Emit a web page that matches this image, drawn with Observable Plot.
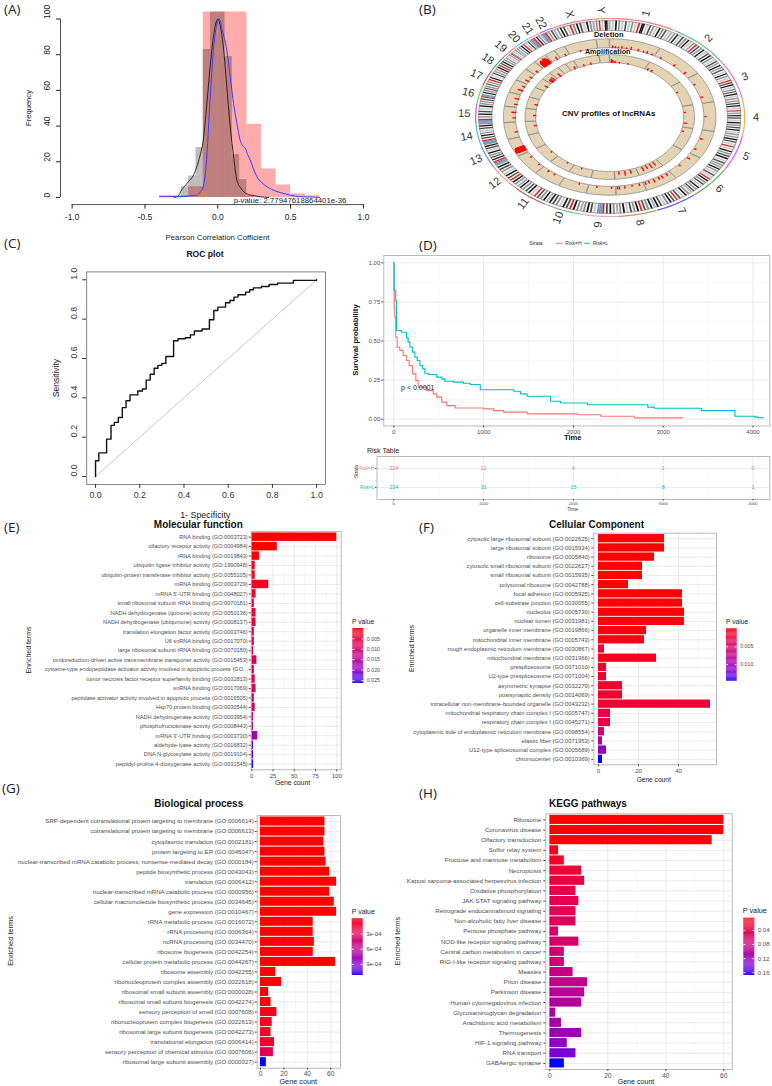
<!DOCTYPE html>
<html><head><meta charset="utf-8">
<script src="https://cdn.jsdelivr.net/npm/d3@7"></script>
<script src="https://cdn.jsdelivr.net/npm/@observablehq/plot@0.6"></script>
<style>
html,body{margin:0;padding:0;background:#fff;}
#root{position:relative;width:772px;height:1086px;overflow:hidden;background:#fff;}
#root > svg{position:absolute;left:0;top:0;}
</style></head><body><div id="root"></div>
<script>
// ================= DATA =================
// (A) correlation histograms + densities
const pinkBinWidth = 0.1;
const pinkBinStart = [-0.4,-0.3,-0.2,-0.1,0.0,0.1,0.2,0.3,0.4,0.5,0.6];
const pinkCounts   = [1,1,6,135,140,120,41,16,7,2,1];
const grayBinWidth = 0.05;
const grayBinStart = [-0.25,-0.2,-0.15,-0.1,-0.05,0,0.05,0.1,0.15,0.2];
const grayCounts   = [6,12,28,83,130,125,79,24,10,1];
const blueDensX = [-0.4,-0.3,-0.26,-0.2,-0.145,-0.12,-0.1,-0.08,-0.053,-0.03,-0.01,0.01,0.03,0.062,0.085,0.108,0.13,0.154,0.17,0.189,0.205,0.223,0.245,0.269,0.3,0.338,0.4,0.453,0.5,0.568,0.65,0.7];
const blueDensY = [0.4,0.5,0.4,0.8,1.3,3,6,18,55,83,96,100,94,82.6,68,52.7,42,32,29,27.5,24,21,16,11.6,8.5,6,3.5,2.2,1.2,0.4,0.2,0];
const blackDensX = [-0.3,-0.27,-0.25,-0.22,-0.2,-0.17,-0.145,-0.12,-0.1,-0.08,-0.053,-0.03,0,0.02,0.04,0.06,0.085,0.11,0.13,0.16,0.2,0.25,0.29,0.35];
const blackDensY = [0,1,4,7,9,12,17,24,32,48,73,90,100,95,83,64,40,22,10,5,2,1,0.4,0];
const xTicksA = [-1,-0.5,0,0.5,1];
const yTicksA = [0,20,40,60,80,100];
const pValueA = "p-value: 2.77947618864401e-36";

// (B) circos
const chrNames   = ["1","2","3","4","5","6","7","8","9","10","11","12","13","14","15","16","17","18","19","20","21","22","X","Y"];
const chrLengths = [249,243,198,191,181,171,159,146,141,136,135,134,115,107,103,90,81,78,59,63,48,51,155,59];
const chrColors  = ["#f08080","#66bb88","#d878c8","#f5b041","#e050f0","#4caf50","#5a5aff","#c8905a","#f0a0c8","#80c080","#c06060","#f0a080",
                    "#6090d0","#40c0d0","#c060e0","#60d060","#c05050","#40a0a0","#f08070","#60c0e0","#f0a0a0","#a070e0","#f08080","#e0a060"];
const chrBands = [
 "wlwkwmwlwdwlwmwlwrwkkwlwdwmwlwkwmwdwlw","wmwkwlwdwmwkwlwmwrwdwmwkwlwdwkwmwlwdw","wkwmwdwlwkwmwlwrwdwkwlwmwdwkwlw",
 "wmwdwkwlwrwmwkwdwlwkwmwdwkwlw","wmwkwdwlwrwlwkwmwdwkwlwdwmw","wkwmwlwdwlwrwkwmwdwlwkwmwdw","wmwkwlwdwrwdwkwmwlwdwkw",
 "wkwmwdwrwkwmwdwlwkwmw","wmwkwdwrbbbwlwdwkwmw","wmwkwrwdwkwlwmwdwkw","wkwmwdwrwlwkwdwmwkw","wmwkwrwdwkwlwmwdwkw",
 "bbrwkwdwmwkwlwdwkw","bbrwdwkwmwlwdwkw","bbrwmwkwdwlwkw","wmwdwrbbwkwmwdw","wdwmwrwkwlwdw","wmwkwrwdwkwmw",
 "wlwmwrbwlwmw","wmwkwrwlwdw","bbrwkwmw","bbrwmwdw","wmwkwdwlwrwmwkwdwlwkwmw","wmwrwlwkkw"];
const delMarks = [
 ["1",10,.3],["1",25,.25],["1",40,.2],["1",60,.3],["1",85,.2],["1",110,.35],["1",150,.25],["1",180,.2],["1",200,.3],["1",230,.2],
 ["2",30,.2],["2",120,.25],["2",200,.3],["3",50,.2],["3",150,.25],["4",90,.2],["5",60,.25],["5",140,.2],["6",30,.3],["6",100,.2],
 ["7",20,.3],["7",50,.35],["7",70,.3],["7",100,.4],["7",130,.3],["7",150,.35],["8",20,.3],["8",60,.2],["8",100,.3],["8",130,.35],["8",140,.3],
 ["9",20,.25],["9",100,.2],["10",50,.2],["11",60,.2],["11",100,.25],["12",30,.2],["12",100,.2],
 ["13",20,.9],["13",22,.95],["13",24,.9],["13",26,.95],["13",28,.9],["13",30,.95],["13",32,.9],["13",34,.95],["13",36,.9],["13",38,.85],["13",40,.9],["13",42,.8],["13",44,.85],["13",46,.8],["13",48,.9],["13",50,.8],
 ["14",40,.3],["15",30,.3],["15",70,.4],["16",20,.3],["16",60,.4],["17",30,.5],["17",60,.3],["18",20,.4],["18",50,.3],["19",20,.3],
 ["20",10,.6],["20",15,.7],["20",20,.8],["20",25,.75],["20",30,.7],["20",35,.85],["20",40,.9],["20",45,.8],["20",50,.8],["20",55,.6],
 ["21",30,.4],["22",30,.3],["X",60,.2]];
const ampMarks = [
 ["1",5,.5],["1",15,.4],["1",30,.3],["1",60,.2],["1",120,.2],["2",10,.3],["2",40,.3],["3",60,.2],["4",50,.2],["4",150,.3],["5",30,.2],
 ["7",30,.5],["7",60,.6],["7",90,.5],["7",120,.6],["8",40,.5],["8",80,.6],["8",120,.4],["10",80,.2],["11",50,.2],["12",60,.2],
 ["14",70,.3],["15",50,.3],["16",40,.35],["18",40,.4],["19",15,.5],["19",25,.55],["19",40,.6],["20",30,.5],["22",30,.4],["X",40,.3],["X",90,.3]];

// (C) ROC
const rocFPR = [0,0,0.015,0.05,0.07,0.085,0.103,0.121,0.138,0.156,0.191,0.212,0.229,0.247,0.265,0.282,0.30,0.318,0.353,0.373,0.406,0.429,0.447,0.482,0.515,0.535,0.553,0.588,0.608,0.626,0.644,0.679,0.697,0.714,0.75,0.785,0.823,0.895,1];
const rocTPR = [0,0.08,0.12,0.19,0.26,0.275,0.30,0.35,0.385,0.415,0.435,0.445,0.49,0.52,0.55,0.565,0.575,0.61,0.69,0.70,0.705,0.72,0.74,0.75,0.797,0.844,0.861,0.883,0.895,0.912,0.924,0.937,0.949,0.959,0.966,0.976,0.983,0.997,1];
const ticksC = [0,0.2,0.4,0.6,0.8,1];

// (D) survival
const survH_t = [0,2,5,11,22,37,67,104,142,172,209,246,272,366,440,478,534,590,683,1000,1112,1224,1485,2045,2306,2679,3220];
const survH_s = [1,0.827,0.716,0.652,0.525,0.46,0.44,0.407,0.375,0.343,0.29,0.247,0.205,0.183,0.162,0.141,0.109,0.087,0.072,0.066,0.055,0.045,0.034,0.028,0.019,0.0085,0.0085];
const survL_t = [0,4,22,30,86,142,160,179,209,235,261,291,321,347,384,478,534,571,664,776,851,963,1336,1410,1485,1746,1858,2157,2828,2903,3425,3799,4022,4060,4120];
const survL_s = [1,0.823,0.759,0.567,0.556,0.52,0.493,0.461,0.429,0.397,0.375,0.343,0.322,0.294,0.286,0.269,0.258,0.243,0.237,0.23,0.222,0.188,0.179,0.162,0.147,0.115,0.104,0.092,0.077,0.07,0.055,0.019,0.013,0.009,0.009];
const strata = ["Risk=H","Risk=L"];
const strataColors = ["#F8766D","#00BFC4"];
const riskTimes = [0,1000,2000,3000,4000];
const riskH = [224,12,4,1,0];
const riskL = [224,31,15,8,1];

// (E) Molecular function
const mfTerms = ["RNA binding (GO:0003723)","olfactory receptor activity (GO:0004984)","rRNA binding (GO:0019843)","ubiquitin ligase inhibitor activity (GO:1990948)","ubiquitin-protein transferase inhibitor activity (GO:0055105)","mRNA binding (GO:0003729)","mRNA 5'-UTR binding (GO:0048027)","small ribosomal subunit rRNA binding (GO:0070181)","NADH dehydrogenase (quinone) activity (GO:0050136)","NADH dehydrogenase (ubiquinone) activity (GO:0008137)","translation elongation factor activity (GO:0003746)","U6 snRNA binding (GO:0017070)","large ribosomal subunit rRNA binding (GO:0070180)","oxidoreduction-driven active transmembrane transporter activity (GO:0015453)","cysteine-type endopeptidase activator activity involved in apoptotic process (GO...","tumor necrosis factor receptor superfamily binding (GO:0032813)","snRNA binding (GO:0017069)","peptidase activator activity involved in apoptotic process (GO:0016505)","Hsp70 protein binding (GO:0030544)","NADH dehydrogenase activity (GO:0003954)","phosphofructokinase activity (GO:0008443)","mRNA 3'-UTR binding (GO:0003730)","aldehyde-lyase activity (GO:0016832)","DNA N-glycosylase activity (GO:0019104)","peptidyl-proline 4-dioxygenase activity (GO:0031545)"];
const mfCounts = [100,30,9,4,4,20,5,3,5,5,3,3,2,6,3,4,5,3,4,2,2,7,2,2,2];
const mfP = [0.00001,0.00002,0.0005,0.0015,0.0015,0.002,0.0035,0.004,0.005,0.005,0.006,0.0065,0.007,0.0075,0.008,0.0085,0.009,0.0105,0.0115,0.0125,0.013,0.0175,0.024,0.025,0.0264];
const mfLegendTicks = [0.005,0.010,0.015,0.020,0.025];

// (F) Cellular component
const ccTerms = ["cytosolic large ribosomal subunit (GO:0022625)","large ribosomal subunit (GO:0015934)","ribosome (GO:0005840)","cytosolic small ribosomal subunit (GO:0022627)","small ribosomal subunit (GO:0015935)","polysomal ribosome (GO:0042788)","focal adhesion (GO:0005925)","cell-substrate junction (GO:0030055)","nucleolus (GO:0005730)","nuclear lumen (GO:0031981)","organelle inner membrane (GO:0019866)","mitochondrial inner membrane (GO:0005743)","rough endoplasmic reticulum membrane (GO:0030867)","mitochondrial membrane (GO:0031966)","prespliceosome (GO:0071010)","U2-type prespliceosome (GO:0071004)","asymmetric synapse (GO:0032279)","postsynaptic density (GO:0014069)","intracellular non-membrane-bounded organelle (GO:0043232)","mitochondrial respiratory chain complex I (GO:0005747)","respiratory chain complex I (GO:0045271)","cytoplasmic side of endoplasmic reticulum membrane (GO:0098554)","elastic fiber (GO:0071953)","U12-type spliceosomal complex (GO:0005689)","chromocenter (GO:0010369)"];
const ccCounts = [33,33,28,22,22,15,42,42,43,43,24,23,3,29,4,4,12,12,56,6,6,3,2,4,2];
const ccP = [0.00001,0.00001,0.00002,0.00003,0.00003,0.0001,0.0001,0.0001,0.0002,0.0002,0.0004,0.0006,0.0022,0.0008,0.0018,0.0018,0.0017,0.0017,0.002,0.003,0.003,0.006,0.008,0.011,0.0146];
const ccLegendTicks = [0.005,0.010];

// (G) Biological process
const bpTerms = ["SRP-dependent cotranslational protein targeting to membrane (GO:0006614)","cotranslational protein targeting to membrane (GO:0006613)","cytoplasmic translation (GO:0002181)","protein targeting to ER (GO:0045047)","nuclear-transcribed mRNA catabolic process, nonsense-mediated decay (GO:0000184)","peptide biosynthetic process (GO:0043043)","translation (GO:0006412)","nuclear-transcribed mRNA catabolic process (GO:0000956)","cellular macromolecule biosynthetic process (GO:0034645)","gene expression (GO:0010467)","rRNA metabolic process (GO:0016072)","rRNA processing (GO:0006364)","ncRNA processing (GO:0034470)","ribosome biogenesis (GO:0042254)","cellular protein metabolic process (GO:0044267)","ribosome assembly (GO:0042255)","ribonucleoprotein complex assembly (GO:0022618)","ribosomal small subunit assembly (GO:0000028)","ribosomal small subunit biogenesis (GO:0042274)","sensory perception of smell (GO:0007608)","ribonucleoprotein complex biogenesis (GO:0022613)","ribosomal large subunit biogenesis (GO:0042273)","translational elongation (GO:0006414)","sensory perception of chemical stimulus (GO:0007606)","ribosomal large subunit assembly (GO:0000027)"];
const bpCounts = [55,55,54,55,56,59,65,59,63,65,45,45,46,45,64,13,18,7,9,14,10,9,12,11,5];
const bpP = [1e-9,1e-9,1e-9,1e-9,1e-9,1e-9,1e-9,1e-9,1e-9,1e-9,2e-6,2e-6,3e-6,3e-6,5e-6,1e-5,2e-5,3e-5,4e-5,5e-5,8e-5,1e-4,1.5e-4,2.8e-4,1.12e-3];
const bpLegendTicks = [3e-4,6e-4,9e-4];

// (H) KEGG
const keggTerms = ["Ribosome","Coronavirus disease","Olfactory transduction","Sulfur relay system","Fructose and mannose metabolism","Necroptosis","Kaposi sarcoma-associated herpesvirus infection","Oxidative phosphorylation","JAK-STAT signaling pathway","Retrograde endocannabinoid signaling","Non-alcoholic fatty liver disease","Pentose phosphate pathway","NOD-like receptor signaling pathway","Central carbon metabolism in cancer","RIG-I-like receptor signaling pathway","Measles","Prion disease","Parkinson disease","Human cytomegalovirus infection","Glycosaminoglycan degradation","Arachidonic acid metabolism","Thermogenesis","HIF-1 signaling pathway","RNA transport","GABAergic synapse"];
const keggCounts = [60,60,56,3,5,11,12,9,10,9,9,3,10,5,5,8,13,12,11,2,4,11,6,9,5];
const keggP = [0.005,0.006,0.008,0.015,0.02,0.03,0.035,0.04,0.045,0.05,0.055,0.06,0.065,0.07,0.075,0.08,0.09,0.095,0.1,0.105,0.11,0.12,0.13,0.14,0.168];
const keggLegendTicks = [0.04,0.08,0.12,0.16];

// ================= HELPERS =================
const W = 772, H = 1086;
const root = document.getElementById("root");
const FONT = "Liberation Sans, Arial, Helvetica, sans-serif";
const frame = (x0, x1, y0, y1) => ({width: W, height: H, marginLeft: x0, marginRight: W - x1, marginTop: y0, marginBottom: H - y1,
  style: {background: "transparent", fontFamily: FONT, overflow: "visible"}});
const add = (svg) => root.appendChild(svg);
const zip = (xs, ys) => xs.map((x, i) => ({x, y: ys[i]}));

// ================= (A) =================
{
  const xDom = [-1.08, 1.08], yDom = [-4, 104];
  const pink = pinkBinStart.map((x, i) => ({x1: x, x2: x + pinkBinWidth, n: pinkCounts[i]}));
  const gray = grayBinStart.map((x, i) => ({x1: x, x2: x + grayBinWidth, n: grayCounts[i]}));
  add(Plot.plot({
    ...frame(60, 374.6, 11.4, 204.1),
    x: {domain: xDom, axis: null}, y: {domain: yDom, axis: null},
    marks: [
      Plot.rectY(pink, {x1: "x1", x2: "x2", y: "n", fill: "#ff0000", fillOpacity: 0.33, clip: true}),
      Plot.rectY(gray, {x1: "x1", x2: "x2", y: "n", fill: "#000000", fillOpacity: 0.255, clip: true}),
      Plot.line(zip(blackDensX, blackDensY), {x: "x", y: "y", stroke: "#1a1a1a", strokeWidth: 0.9, curve: "monotone-x"}),
      Plot.line(zip(blueDensX, blueDensY), {x: "x", y: "y", stroke: "#3b3bff", strokeWidth: 1, curve: "monotone-x"}),
      Plot.ruleX([xDom[0]], {y1: yTicksA[0], y2: yTicksA[yTicksA.length - 1], stroke: "#222", strokeWidth: 0.8}),
      Plot.ruleY([yDom[0]], {x1: xTicksA[0], x2: xTicksA[xTicksA.length - 1], stroke: "#222", strokeWidth: 0.8}),
      Plot.axisY({ticks: yTicksA, tickSize: 4, tickFormat: () => "", label: null, color: "#222"}),
      Plot.axisX({ticks: xTicksA, tickSize: 4.5, tickFormat: () => "", label: null, color: "#222"}),
      Plot.text(yTicksA, {y: d => d, text: d => String(d), frameAnchor: "left", dx: -13.3, rotate: -90, fontSize: 8.5, fill: "#222"}),
      Plot.text(xTicksA, {x: d => d, text: d => d.toFixed(1), frameAnchor: "bottom", dy: 15, fontSize: 8.5, fill: "#222"})
    ]
  }));
}

// ================= (B) circos =================
{
  const GAP = 0.6;
  const degPerMb = (360 - GAP * chrNames.length) / d3.sum(chrLengths);
  const starts = []; let acc = GAP / 2;
  chrLengths.forEach(L => { starts.push(acc); acc += L * degPerMb + GAP; });
  const idx = Object.fromEntries(chrNames.map((n, i) => [n, i]));
  const rad = a => a * Math.PI / 180;
  const px = (a, r) => r * Math.sin(rad(a));
  const py = (a, r) => r * Math.cos(rad(a));
  const arcPts = (id, a0, a1, r0, r1, extra = {}) => {
    const n = Math.max(2, Math.ceil(Math.abs(a1 - a0) / 1) + 1);
    return d3.range(n).map(k => { const a = a0 + (a1 - a0) * k / (n - 1);
      return {id, x1: px(a, r0), y1: py(a, r0), x2: px(a, r1), y2: py(a, r1), ...extra}; });
  };
  const IDEO = [0.875, 0.975], DEL = [0.70, 0.79], AMP = [0.55, 0.63], OUTER = 1.0, LABEL = 1.085;
  const chrs = chrNames.map((n, i) => ({name: n, a0: starts[i], a1: starts[i] + chrLengths[i] * degPerMb, color: chrColors[i]}));
  const bandColor = {l: "#c8c8c8", m: "#8c8c8c", d: "#4a4a4a", k: "#111111", r: "#e8201c", b: "#6f8fc0"};
  const ideoBg = chrs.flatMap(c => arcPts("i" + c.name, c.a0, c.a1, IDEO[0], IDEO[1]));
  const bands = chrs.flatMap((c, i) => {
    const pat = chrBands[i], n = pat.length;
    return Array.from(pat).flatMap((ch, k) => ch === "w" ? [] :
      arcPts(c.name + "-" + k, c.a0 + (c.a1 - c.a0) * k / n, c.a0 + (c.a1 - c.a0) * (k + 1) / n, IDEO[0], IDEO[1], {fill: bandColor[ch]}));
  });
  const delRing = chrs.flatMap(c => arcPts("d" + c.name, c.a0, c.a1, DEL[0], DEL[1]));
  const ampRing = chrs.flatMap(c => arcPts("a" + c.name, c.a0, c.a1, AMP[0], AMP[1]));
  const outer = chrs.flatMap(c => arcPts("o" + c.name, c.a0, c.a1, OUTER, OUTER, {color: c.color}));
  const markLinks = (marks, ring) => marks.map(([n, mb, h]) => {
    const a = starts[idx[n]] + mb * degPerMb;
    const r2 = ring[0] + h * (ring[1] - ring[0]);
    return {x1: px(a, ring[0]), y1: py(a, ring[0]), x2: px(a, r2), y2: py(a, r2)};
  });
  const labels = chrs.map(c => {
    const a = (c.a0 + c.a1) / 2;
    return {x: px(a, LABEL), y: py(a, LABEL), text: c.name, rot: a <= 180 ? a - 90 : a - 270};
  });
  add(Plot.plot({
    ...frame(475.2, 744.2, 18, 216),
    x: {domain: [-1, 1], axis: null}, y: {domain: [-1, 1], axis: null},
    marks: [
      Plot.area(ideoBg, {x1: "x1", y1: "y1", x2: "x2", y2: "y2", z: "id", fill: "#f4f4f4"}),
      Plot.area(bands, {x1: "x1", y1: "y1", x2: "x2", y2: "y2", z: "id", fill: "fill"}),
      Plot.area(ideoBg, {x1: "x1", y1: "y1", x2: "x2", y2: "y2", z: "id", fill: "none", stroke: "#555", strokeWidth: 0.5}),
      Plot.area(delRing, {x1: "x1", y1: "y1", x2: "x2", y2: "y2", z: "id", fill: "#e5d4b4", stroke: "#8a8a8a", strokeWidth: 0.8}),
      Plot.area(ampRing, {x1: "x1", y1: "y1", x2: "x2", y2: "y2", z: "id", fill: "#e5d4b4", stroke: "#8a8a8a", strokeWidth: 0.8}),
      Plot.link(markLinks(delMarks, DEL), {x1: "x1", y1: "y1", x2: "x2", y2: "y2", stroke: "#ff0000", strokeWidth: 1.4}),
      Plot.link(markLinks(ampMarks, AMP), {x1: "x1", y1: "y1", x2: "x2", y2: "y2", stroke: "#ff0000", strokeWidth: 1.4}),
      Plot.line(outer, {x: "x1", y: "y1", z: "id", stroke: "color", strokeWidth: 1.2}),
      Plot.text(labels, {x: "x", y: "y", text: "text", rotate: "rot", fontSize: 11, fill: "#333"})
    ]
  }));
}

// ================= (C) ROC =================
{
  const dom = [-0.04, 1.04];
  add(Plot.plot({
    ...frame(86.2, 325, 271.4, 483.9),
    x: {domain: dom}, y: {domain: dom},
    marks: [
      Plot.line([{x: 0, y: 0}, {x: 1, y: 1}], {x: "x", y: "y", stroke: "#c4c4c4", strokeWidth: 0.9}),
      Plot.line(zip(rocFPR, rocTPR), {x: "x", y: "y", curve: "step-after", stroke: "#111", strokeWidth: 1.4}),
      Plot.frame({stroke: "#777", strokeWidth: 0.9}),
      Plot.axisX({ticks: ticksC, tickSize: 4, tickFormat: () => "", label: null, color: "#333"}),
      Plot.axisY({ticks: ticksC, tickSize: 4, tickFormat: () => "", label: null, color: "#333"}),
      Plot.text(ticksC, {x: d => d, text: d => d.toFixed(1), frameAnchor: "bottom", dy: 13.4, fontSize: 8.8, fill: "#333"}),
      Plot.text(ticksC, {y: d => d, text: d => d.toFixed(1), frameAnchor: "left", dx: -12.9, rotate: -90, fontSize: 8.8, fill: "#333"})
    ]
  }));
}

// ================= (D) survival =================
{
  const xMajor = [0,1000,2000,3000,4000], xMinor = [500,1500,2500,3500];
  const yMajor = [0,0.25,0.5,0.75,1], yMinor = [0.125,0.375,0.625,0.875];
  const H_ = zip(survH_t, survH_s), L_ = zip(survL_t, survL_s);
  add(Plot.plot({
    ...frame(383.3, 769.3, 255, 425.5),
    x: {domain: [-111, 4187]}, y: {domain: [-0.0435, 1.047]},
    marks: [
      Plot.gridX(xMinor, {stroke: "#f2f2f2", strokeOpacity: 1, strokeWidth: 0.5}),
      Plot.gridY(yMinor, {stroke: "#f2f2f2", strokeOpacity: 1, strokeWidth: 0.5}),
      Plot.gridX(xMajor, {stroke: "#e6e6e6", strokeOpacity: 1, strokeWidth: 0.8}),
      Plot.gridY(yMajor, {stroke: "#e6e6e6", strokeOpacity: 1, strokeWidth: 0.8}),
      Plot.line(H_, {x: "x", y: "y", curve: "step-after", stroke: strataColors[0], strokeWidth: 1.1}),
      Plot.line(L_, {x: "x", y: "y", curve: "step-after", stroke: strataColors[1], strokeWidth: 1.1}),
      Plot.frame({stroke: "#b3b3b3", strokeWidth: 0.9}),
      Plot.axisX({ticks: xMajor, tickSize: 2, tickPadding: 1.5, tickFormat: d3.format("d"), fontSize: 6, label: null, color: "#4d4d4d"}),
      Plot.axisY({ticks: yMajor, tickSize: 2, tickPadding: 1.5, tickFormat: d3.format(".2f"), fontSize: 6, label: null, color: "#4d4d4d"})
    ]
  }));
  // risk table
  const riskData = riskTimes.flatMap((t, i) => [{t, s: strata[0], n: riskH[i], c: strataColors[0]}, {t, s: strata[1], n: riskL[i], c: strataColors[1]}]);
  add(Plot.plot({
    ...frame(376.5, 769.3, 456, 499),
    x: {domain: [-187, 4187]}, y: {type: "point", domain: strata, padding: 0.6},
    marks: [
      Plot.gridX(xMinor, {stroke: "#f2f2f2", strokeOpacity: 1, strokeWidth: 0.5}),
      Plot.gridX(xMajor, {stroke: "#e6e6e6", strokeOpacity: 1, strokeWidth: 0.8}),
      Plot.gridY(strata, {stroke: "#e6e6e6", strokeOpacity: 1, strokeWidth: 0.8}),
      Plot.text(riskData, {x: "t", y: "s", text: d => String(d.n), fill: "c", fontSize: 5.5}),
      Plot.frame({stroke: "#b3b3b3", strokeWidth: 0.9}),
      Plot.axisX({ticks: xMajor, tickSize: 1.5, tickPadding: 1, tickFormat: d3.format("d"), fontSize: 4.2, label: null, color: "#4d4d4d"}),
      Plot.axisY({tickSize: 1.5, tickFormat: () => "", label: null, color: "#4d4d4d"}),
      Plot.text(strata.map((s, i) => ({s, c: strataColors[i]})), {y: "s", text: "s", fill: "c", frameAnchor: "left", dx: -3, textAnchor: "end", fontSize: 4.5})
    ]
  }));
}

// ================= (E)-(H) bar panels =================
function barPanel(o) {
  const data = o.terms.map((t, i) => ({term: t, count: o.counts[i], p: o.pvals[i]}));
  const cdom = d3.extent(o.pvals);
  const color = {type: "linear", domain: cdom, range: ["red", "blue"], interpolate: "lab"};
  add(Plot.plot({
    ...frame(o.x0, o.x1, o.y0, o.y1),
    x: {domain: o.xDomain}, y: {domain: o.terms, paddingInner: 0.1, paddingOuter: 0.15, round: false},
    color,
    marks: [
      Plot.gridX(o.xMinor, {stroke: "#f2f2f2", strokeOpacity: 1, strokeWidth: 0.5}),
      Plot.gridX(o.xTicks, {stroke: "#e6e6e6", strokeOpacity: 1, strokeWidth: 0.8}),
      Plot.gridY(o.terms, {stroke: "#e6e6e6", strokeOpacity: 1, strokeWidth: 0.8}),
      Plot.barX(data, {x: "count", y: "term", fill: "p"}),
      Plot.frame({stroke: "#b3b3b3", strokeWidth: 0.9}),
      Plot.axisY({tickSize: 2, tickPadding: o.yPad, fontSize: o.yFont, label: null, color: "#4d4d4d"}),
      Plot.axisX({ticks: o.xTicks, tickSize: 2, tickPadding: o.xPad, fontSize: o.xFont, label: null, color: "#4d4d4d"})
    ]
  }));
  // colour bar legend
  const L = o.legend, n = 60;
  const slices = d3.range(n).map(k => ({a: cdom[0] + (cdom[1] - cdom[0]) * k / n, b: cdom[0] + (cdom[1] - cdom[0]) * (k + 1) / n}));
  add(Plot.plot({
    ...frame(L.x0, L.x1, L.y0, L.y1),
    x: {domain: [0, 1], axis: null}, y: {domain: cdom, reverse: true, axis: null},
    color,
    marks: [
      Plot.rect(slices, {x1: 0, x2: 1, y1: "a", y2: "b", fill: d => (d.a + d.b) / 2}),
      Plot.ruleY(L.ticks, {x1: 0, x2: 0.2, stroke: "white", strokeWidth: 0.8}),
      Plot.ruleY(L.ticks, {x1: 0.8, x2: 1, stroke: "white", strokeWidth: 0.8}),
      Plot.text(L.ticks, {y: d => d, text: L.fmt, frameAnchor: "right", dx: 3, textAnchor: "start", fontSize: L.font, fill: "#4d4d4d"})
    ]
  }));
}

barPanel({terms: mfTerms, counts: mfCounts, pvals: mfP, x0: 250.7, x1: 340.7, y0: 531, y1: 769.3,
  xDomain: [-0.7, 105.2], xTicks: [0,25,50,75,100], xMinor: [12.5,37.5,62.5,87.5], yFont: 5.6, yPad: 1.5, xFont: 6, xPad: 1.6,
  legend: {x0: 352.3, x1: 363.3, y0: 628, y1: 683, ticks: mfLegendTicks, fmt: d => d.toFixed(3), font: 5.3}});
barPanel({terms: ccTerms, counts: ccCounts, pvals: ccP, x0: 593.3, x1: 716, y0: 532.7, y1: 764.3,
  xDomain: [-2.35, 59], xTicks: [0,20,40], xMinor: [10,30,50], yFont: 5.8, yPad: 2.2, xFont: 6, xPad: 1.6,
  legend: {x0: 726, x1: 736.7, y0: 628.3, y1: 680.7, ticks: ccLegendTicks, fmt: d => d.toFixed(3), font: 5.3}});
barPanel({terms: bpTerms, counts: bpCounts, pvals: bpP, x0: 256.7, x1: 340, y0: 815, y1: 1067.7,
  xDomain: [-2.8, 68.3], xTicks: [0,20,40,60], xMinor: [10,30,50], yFont: 6.1, yPad: 1.5, xFont: 6.6, xPad: 1.6,
  legend: {x0: 351.7, x1: 362.7, y0: 918.3, y1: 975, ticks: bpLegendTicks, fmt: d => d3.format(".0e")(d).replace(/e-(\d)$/, "e-0$1"), font: 6}});
barPanel({terms: keggTerms, counts: keggCounts, pvals: keggP, x0: 545.3, x1: 731.7, y0: 813.3, y1: 1069,
  xDomain: [-1.4, 62.9], xTicks: [0,20,40,60], xMinor: [10,30,50], yFont: 6.2, yPad: 2.5, xFont: 6.6, xPad: 1.6,
  legend: {x0: 743.3, x1: 754.3, y0: 917.7, y1: 975, ticks: keggLegendTicks, fmt: d => d.toFixed(2), font: 6}});

// ================= overlay texts =================
const ov = d3.create("svg").attr("width", W).attr("height", H).attr("font-family", FONT);
function T(str, x, y, o = {}) {
  const t = ov.append("text").attr("x", x).attr("y", y).attr("font-size", o.s || 8)
    .attr("text-anchor", o.a || "middle").attr("dominant-baseline", "central")
    .attr("fill", o.c || "#111").text(str);
  if (o.b) t.attr("font-weight", "bold");
  if (o.f) t.attr("font-family", o.f);
  if (o.r) t.attr("transform", `rotate(${o.r},${x},${y})`);
}
const LBL = {s: 13.5, a: "start", f: "Open Sans, Noto Sans, sans-serif", c: "#222"};
// (A)
T("(A)", 4, 9, LBL);
T("Frequency", 28, 108, {s: 7.6, r: -90, c: "#222"});
T("Pearson Correlation Cofficient", 217.5, 237, {s: 7.8, c: "#222"});
T(pValueA, 290, 200, {s: 7.8, c: "#222"});
// (B)
T("(B)", 419, 9, LBL);
T("Deletion", 608.7, 34.3, {s: 7.5, b: true});
T("Amplification", 607.7, 51, {s: 7.2, b: true});
T("CNV profiles  of lncRNAs", 608.7, 113.3, {s: 8, b: true});
// (C)
T("(C)", 4, 243, LBL);
T("ROC plot", 205, 254, {s: 8.6, b: true});
T("Sensitivity", 56, 378, {s: 8.5, r: -90, c: "#222"});
T("1- Specificity", 205.3, 514.7, {s: 8.9, c: "#222"});
// (D)
T("(D)", 419, 245, LBL);
T("Strata", 529.3, 243.3, {s: 5, a: "start", c: "#333"});
ov.append("line").attr("x1", 556).attr("x2", 562.7).attr("y1", 243.3).attr("y2", 243.3).attr("stroke", strataColors[0]).attr("stroke-width", 1);
T("Risk=H", 565.3, 243.3, {s: 5, a: "start", c: "#333"});
ov.append("line").attr("x1", 583.7).attr("x2", 590).attr("y1", 243.3).attr("y2", 243.3).attr("stroke", strataColors[1]).attr("stroke-width", 1);
T("Risk=L", 592.7, 243.3, {s: 5, a: "start", c: "#333"});
T("Survival probability", 355, 340, {s: 7.7, b: true, r: -90});
T("Time", 572.7, 437.7, {s: 7.6, b: true});
T("p < 0.0001", 417.7, 387.3, {s: 7, c: "#222"});
T("Risk Table", 367, 450, {s: 7, a: "start", c: "#222"});
T("Strata", 356, 471.5, {s: 4.8, r: -90, c: "#333"});
T("Time", 572.7, 509.3, {s: 5, c: "#333"});
// (E)
T("(E)", 4, 527, LBL);
T("Molecular function", 198.3, 524, {s: 10, b: true});
T("Enriched terms", 28, 650, {s: 7, r: -90, c: "#222"});
T("Gene count", 292.5, 782.7, {s: 6.8, c: "#222"});
T("P value", 352, 621.7, {s: 6.7, a: "start", c: "#222"});
// (F)
T("(F)", 419, 527, LBL);
T("Cellular Component", 596.5, 524, {s: 10, b: true});
T("Enriched terms", 411, 648.5, {s: 7, r: -90, c: "#222"});
T("Gene count", 653.7, 779, {s: 6.6, c: "#222"});
T("P value", 726, 621.7, {s: 6.7, a: "start", c: "#222"});
// (G)
T("(G)", 2, 788, LBL);
T("Biological process", 198.8, 803, {s: 10, b: true});
T("Enriched terms", 10, 941, {s: 7.4, r: -90, c: "#222"});
T("Gene count", 298.3, 1081.7, {s: 7.3, c: "#222"});
T("P value", 351.7, 911.7, {s: 7, a: "start", c: "#222"});
// (H)
T("(H)", 419, 793, LBL);
T("KEGG pathways", 588, 803, {s: 10, b: true});
T("Enriched terms", 397, 941, {s: 7.2, r: -90, c: "#222"});
T("Gene count", 636, 1082, {s: 7.1, c: "#222"});
T("P value", 742.7, 910, {s: 7.3, a: "start", c: "#222"});
root.appendChild(ov.node());
</script></body></html>
